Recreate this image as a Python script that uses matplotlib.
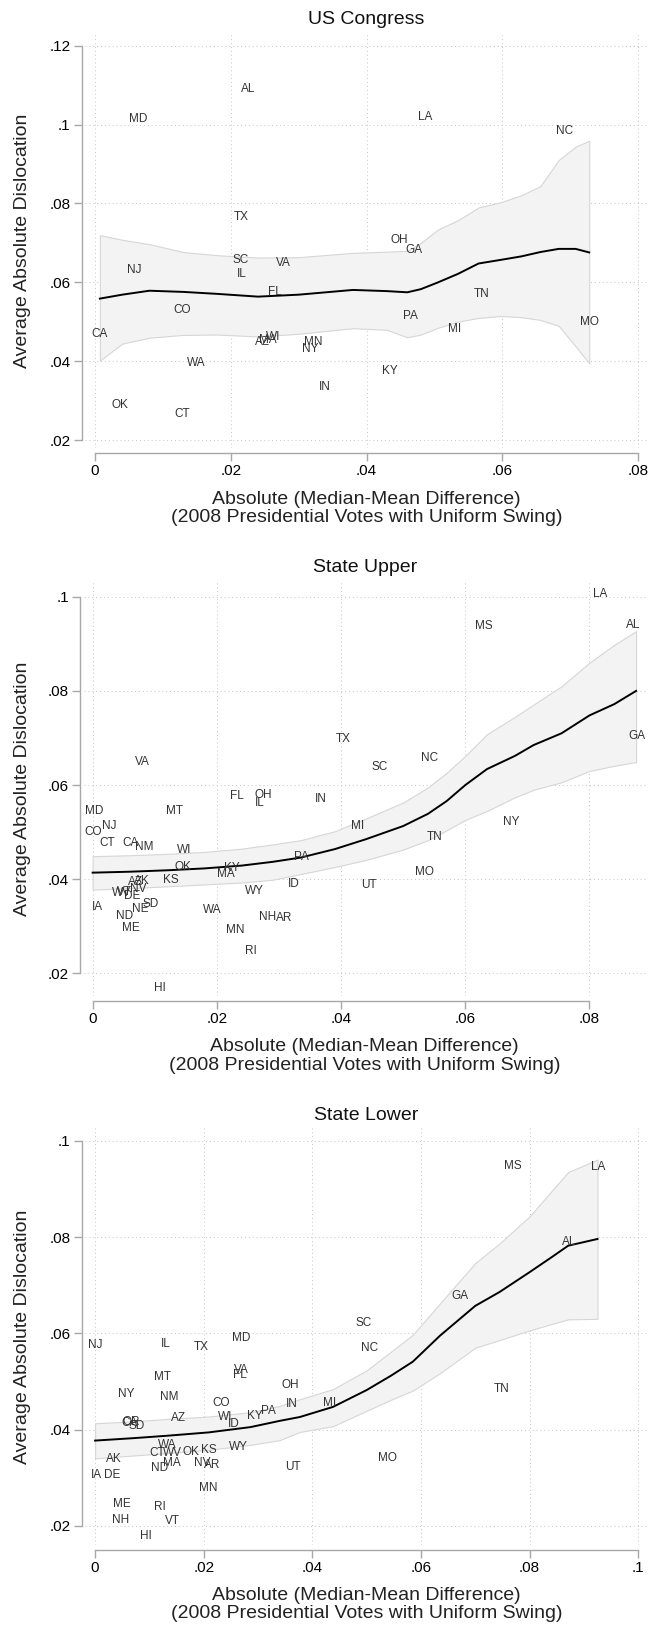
import matplotlib
matplotlib.use("Agg")
import matplotlib.pyplot as plt
from matplotlib.ticker import FuncFormatter

plt.rcParams['font.family'] = ['Liberation Sans', 'DejaVu Sans']

# ---- US Congress ----
cong_states = ["AL", "MD", "LA", "NC", "TX", "OH", "GA", "SC", "VA", "NJ", "IL", "FL", "TN", "CO",
               "PA", "MO", "MI", "CA", "AZ", "MA", "WI", "MN", "NY", "WA", "KY", "IN", "OK", "CT"]
cong_x = [0.0226, 0.0063, 0.0487, 0.0691, 0.0216, 0.0448, 0.0470, 0.0214, 0.0277, 0.0058, 0.0216,
          0.0265, 0.0570, 0.0128, 0.0465, 0.0728, 0.0530, 0.0006, 0.0246, 0.0254, 0.0262, 0.0321,
          0.0317, 0.0149, 0.0435, 0.0338, 0.0036, 0.0129]
cong_y = [0.1090, 0.1014, 0.1018, 0.0984, 0.0765, 0.0708, 0.0682, 0.0657, 0.0648, 0.0631, 0.0621,
          0.0575, 0.0570, 0.0531, 0.0515, 0.0499, 0.0482, 0.0470, 0.0450, 0.0455, 0.0462, 0.0449,
          0.0431, 0.0395, 0.0376, 0.0334, 0.0290, 0.0267]
cong_fx = [0.0007, 0.004, 0.008, 0.013, 0.018, 0.024, 0.030, 0.038, 0.043, 0.046, 0.048, 0.0505,
           0.0535, 0.0565, 0.0597, 0.0628, 0.0656, 0.0683, 0.0708, 0.0728]
cong_fit = [0.0559, 0.0569, 0.0579, 0.0576, 0.0571, 0.0564, 0.0569, 0.0581, 0.0578, 0.0575, 0.0583,
            0.0600, 0.0622, 0.0648, 0.0657, 0.0666, 0.0677, 0.0685, 0.0685, 0.0676]
cong_hi = [0.0720, 0.0708, 0.0697, 0.0677, 0.0669, 0.0663, 0.0664, 0.0675, 0.0678, 0.0680, 0.0700,
           0.0734, 0.0758, 0.0790, 0.0803, 0.0821, 0.0844, 0.0910, 0.0944, 0.0959]
cong_lo = [0.0402, 0.0445, 0.0460, 0.0467, 0.0468, 0.0463, 0.0470, 0.0484, 0.0480, 0.0461, 0.0468,
           0.0485, 0.0501, 0.0510, 0.0515, 0.0512, 0.0505, 0.0490, 0.0438, 0.0395]

# ---- State Upper ----
upper_states = ["LA", "MS", "AL", "TX", "GA", "VA", "NC", "SC", "FL", "OH", "IL", "IN", "MD", "MT",
                "NY", "NJ", "MI", "CO", "TN", "CT", "CA", "NM", "WI", "PA", "OK", "KY", "MA", "MO",
                "AZ", "AK", "KS", "ID", "UT", "WY", "NV", "WV", "VT", "DE", "IA", "SD", "NE", "ND",
                "WA", "NH", "AR", "ME", "MN", "RI", "HI"]
upper_x = [0.0818, 0.0630, 0.0871, 0.0403, 0.0876, 0.0080, 0.0542, 0.0462, 0.0232, 0.0274, 0.0269,
           0.0367, 0.0003, 0.0132, 0.0674, 0.0026, 0.0427, 0.0000, 0.0551, 0.0024, 0.0061, 0.0083,
           0.0148, 0.0336, 0.0146, 0.0224, 0.0214, 0.0535, 0.0069, 0.0079, 0.0126, 0.0324, 0.0445,
           0.0261, 0.0073, 0.0046, 0.0052, 0.0064, 0.0007, 0.0093, 0.0076, 0.0052, 0.0193, 0.0281,
           0.0308, 0.0062, 0.0230, 0.0254, 0.0109]
upper_y = [0.1005, 0.0937, 0.0940, 0.0697, 0.0704, 0.0649, 0.0658, 0.0639, 0.0577, 0.0579, 0.0563,
           0.0571, 0.0546, 0.0546, 0.0521, 0.0513, 0.0514, 0.0500, 0.0490, 0.0476, 0.0476, 0.0468,
           0.0462, 0.0447, 0.0426, 0.0424, 0.0411, 0.0416, 0.0394, 0.0396, 0.0398, 0.0389, 0.0387,
           0.0375, 0.0380, 0.0370, 0.0372, 0.0365, 0.0341, 0.0348, 0.0336, 0.0322, 0.0334, 0.0319,
           0.0318, 0.0297, 0.0292, 0.0247, 0.0168]
upper_fx = [0.0, 0.006, 0.012, 0.018, 0.024, 0.029, 0.0335, 0.039, 0.044, 0.050, 0.054, 0.057,
            0.060, 0.0635, 0.068, 0.071, 0.0755, 0.080, 0.084, 0.0875]
upper_fit = [0.0414, 0.0416, 0.0419, 0.0423, 0.0429, 0.0437, 0.0446, 0.0464, 0.0485, 0.0513, 0.0539,
             0.0566, 0.0600, 0.0634, 0.0662, 0.0685, 0.0710, 0.0748, 0.0772, 0.0800]
upper_hi = [0.0449, 0.0451, 0.0454, 0.0458, 0.0465, 0.0474, 0.0483, 0.0502, 0.0529, 0.0563, 0.0595,
            0.0626, 0.0662, 0.0708, 0.0745, 0.0771, 0.0810, 0.0860, 0.0898, 0.0927]
upper_lo = [0.0378, 0.0381, 0.0385, 0.0389, 0.0393, 0.0399, 0.0411, 0.0426, 0.0441, 0.0463, 0.0483,
            0.0504, 0.0526, 0.0545, 0.0574, 0.0590, 0.0606, 0.0630, 0.0641, 0.0649]

# ---- State Lower ----
lower_states = ["MS", "LA", "AL", "GA", "SC", "MD", "NJ", "IL", "TX", "NC", "VA", "FL", "MT", "OH",
                "TN", "NY", "NM", "CO", "IN", "MI", "PA", "KY", "AZ", "WI", "ID", "CA", "OR", "SD",
                "WA", "KS", "WY", "CT", "WV", "OK", "AK", "MO", "MA", "NV", "AR", "ND", "UT", "IA",
                "DE", "MN", "ME", "RI", "NH", "VT", "HI"]
lower_x = [0.0769, 0.0926, 0.0872, 0.0672, 0.0494, 0.0269, 0.0001, 0.0130, 0.0196, 0.0505, 0.0270,
           0.0267, 0.0125, 0.0359, 0.0748, 0.0058, 0.0137, 0.0232, 0.0363, 0.0432, 0.0320, 0.0295,
           0.0154, 0.0240, 0.0255, 0.0063, 0.0066, 0.0076, 0.0132, 0.0209, 0.0264, 0.0115, 0.0143,
           0.0177, 0.0035, 0.0539, 0.0142, 0.0197, 0.0215, 0.0118, 0.0365, 0.0002, 0.0032, 0.0209,
           0.0049, 0.0120, 0.0046, 0.0142, 0.0094]
lower_y = [0.0948, 0.0946, 0.0790, 0.0678, 0.0622, 0.0590, 0.0576, 0.0577, 0.0572, 0.0570, 0.0523,
           0.0514, 0.0510, 0.0492, 0.0485, 0.0474, 0.0468, 0.0456, 0.0452, 0.0456, 0.0438, 0.0428,
           0.0424, 0.0427, 0.0412, 0.0413, 0.0415, 0.0407, 0.0367, 0.0358, 0.0364, 0.0352, 0.0352,
           0.0354, 0.0338, 0.0341, 0.0330, 0.0331, 0.0326, 0.0319, 0.0322, 0.0305, 0.0305, 0.0279,
           0.0245, 0.0240, 0.0212, 0.0210, 0.0179]
lower_fx = [0.0, 0.007, 0.0132, 0.0209, 0.0286, 0.034, 0.0377, 0.0438, 0.050, 0.0545, 0.0585,
            0.0635, 0.070, 0.0745, 0.080, 0.0843, 0.0871, 0.0925]
lower_fit = [0.0377, 0.0382, 0.0387, 0.0394, 0.0405, 0.0418, 0.0426, 0.0447, 0.0482, 0.0512, 0.0541,
             0.0595, 0.0657, 0.0686, 0.0727, 0.0760, 0.0782, 0.0796]
lower_hi = [0.0413, 0.0417, 0.0422, 0.0427, 0.0436, 0.0449, 0.0463, 0.0484, 0.0523, 0.0562, 0.0597,
            0.0662, 0.0746, 0.0787, 0.0843, 0.0899, 0.0935, 0.0961]
lower_lo = [0.0340, 0.0346, 0.0351, 0.0358, 0.0368, 0.0378, 0.0395, 0.0407, 0.0439, 0.0462, 0.0481,
            0.0517, 0.0570, 0.0586, 0.0606, 0.0620, 0.0629, 0.0630]

xlabel1 = "Absolute (Median-Mean Difference)"
xlabel2 = "(2008 Presidential Votes with Uniform Swing)"
ylabel = "Average Absolute Dislocation"

W, H = 654, 1625
fig = plt.figure(figsize=(W / 100, H / 100), dpi=100)


def stata_fmt(v, pos):
    s = f"{v:g}"
    if s.startswith("0."):
        s = s[1:]
    return s


def draw_panel(box, title, xlim, ylim, xticks, yticks, states, xs, ys, fx, fit, lo, hi, title_y, xl_y):
    left, right, top, bottom = box
    ax = fig.add_axes([left / W, 1 - bottom / H, (right - left) / W, (bottom - top) / H])
    ax.set_axisbelow(True)

    # confidence band and fitted line
    ax.fill_between(fx, lo, hi, facecolor='#f3f3f3', edgecolor='#d6d6d6', lw=0.8, zorder=1)
    ax.plot(fx, fit, color='black', lw=1.4, zorder=2)

    # state labels
    for s, xi, yi in zip(states, xs, ys):
        ax.text(xi, yi, s, fontsize=8.5, ha='center', va='center', color='#333333', zorder=3)

    ax.set_xlim(*xlim)
    ax.set_ylim(*ylim)
    ax.set_xticks(xticks)
    ax.set_yticks(yticks)
    ax.xaxis.set_major_formatter(FuncFormatter(stata_fmt))
    ax.yaxis.set_major_formatter(FuncFormatter(stata_fmt))
    ax.grid(True, linestyle=(0, (1, 3)), color='#c4c4c4', lw=0.7)

    for sp in ['top', 'right']:
        ax.spines[sp].set_visible(False)
    ax.spines['left'].set_position(('outward', 2.5))
    ax.spines['bottom'].set_position(('outward', 3.3))
    ax.spines['left'].set_bounds(yticks[0], yticks[-1])
    ax.spines['bottom'].set_bounds(xticks[0], xticks[-1])
    for sp in ['left', 'bottom']:
        ax.spines[sp].set_color('#a8a8a8')
        ax.spines[sp].set_linewidth(1.0)
    ax.tick_params(direction='out', length=5.5, width=1.0, color='#a8a8a8', labelsize=11,
                   pad=2.5, labelcolor='black')

    cx = (left + right) / 2 / W
    fig.text(cx, 1 - title_y / H, title, fontsize=14, ha='center', va='center', color='#111111')
    fig.text(cx, 1 - xl_y[0] / H, xlabel1, fontsize=14, ha='center', va='center', color='#222222')
    fig.text(cx, 1 - xl_y[1] / H, xlabel2, fontsize=14, ha='center', va='center', color='#222222')
    fig.text(23 / W, 1 - (top + bottom) / 2 / H, ylabel, fontsize=14, rotation=90,
             ha='center', va='center', color='#222222')
    return ax


draw_panel((85, 648, 33, 448), "US Congress", (-0.00149, 0.08146), (0.01805, 0.1232),
           [0, 0.02, 0.04, 0.06, 0.08], [0.02, 0.04, 0.06, 0.08, 0.10, 0.12],
           cong_states, cong_x, cong_y, cong_fx, cong_fit, cong_lo, cong_hi, 19, (499, 518))

draw_panel((83.5, 646, 581.7, 996), "State Upper", (-0.00147, 0.0891), (0.0152, 0.1032),
           [0, 0.02, 0.04, 0.06, 0.08], [0.02, 0.04, 0.06, 0.08, 0.10],
           upper_states, upper_x, upper_y, upper_fx, upper_fit, upper_lo, upper_hi, 567, (1046.7, 1065.7))

draw_panel((85, 648, 1128.3, 1545), "State Lower", (-0.00186, 0.1018), (0.016, 0.1026),
           [0, 0.02, 0.04, 0.06, 0.08, 0.10], [0.02, 0.04, 0.06, 0.08, 0.10],
           lower_states, lower_x, lower_y, lower_fx, lower_fit, lower_lo, lower_hi, 1115, (1595, 1613.3))

fig.savefig("out.png", dpi=100, facecolor='white')
